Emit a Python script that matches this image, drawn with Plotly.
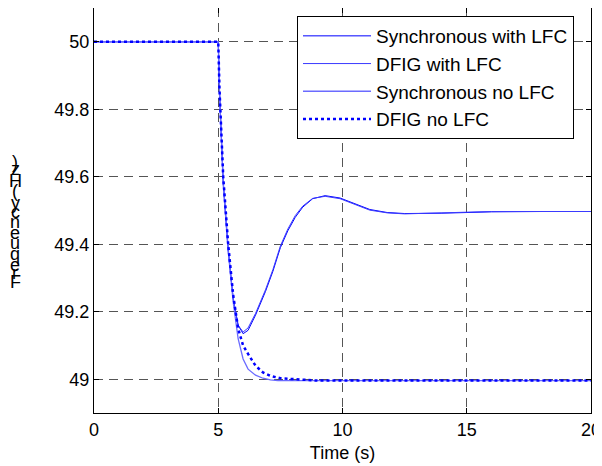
import plotly.graph_objects as go

# ---- data ----
t_lfc = [0, 5.0, 5.05, 5.1, 5.2, 5.4, 5.6, 5.8, 6.0, 6.2, 6.5, 6.9, 7.2, 7.5, 7.8, 8.1, 8.4, 8.8, 9.3, 9.9, 10.5, 11.1, 11.8, 12.5, 14, 16, 18, 20]
sync_lfc = [50, 50, 49.85, 49.75, 49.58, 49.38, 49.24, 49.16, 49.135, 49.145, 49.19, 49.26, 49.32, 49.39, 49.44, 49.48, 49.51, 49.535, 49.544, 49.537, 49.52, 49.503, 49.494, 49.491, 49.492, 49.496, 49.497, 49.497]
dfig_lfc = [50, 50, 49.86, 49.76, 49.59, 49.39, 49.24, 49.16, 49.14, 49.152, 49.195, 49.265, 49.325, 49.395, 49.445, 49.485, 49.513, 49.536, 49.542, 49.535, 49.518, 49.501, 49.493, 49.49, 49.493, 49.497, 49.497, 49.497]

t_sync_nolfc = [0, 5, 5.05, 5.1, 5.2, 5.4, 5.6, 5.8, 6.0, 6.2, 6.5, 6.8, 7.1, 7.4, 8, 9, 10, 12, 15, 20]
sync_nolfc = [50, 50, 49.85, 49.75, 49.58, 49.38, 49.23, 49.12, 49.06, 49.03, 49.012, 49.003, 48.998, 48.996, 48.996, 48.996, 48.996, 48.996, 48.996, 48.996]

t_dfig_nolfc = [0, 5, 5.05, 5.1, 5.2, 5.4, 5.6, 5.8, 6.0, 6.2, 6.5, 6.8, 7.1, 7.5, 8, 8.5, 9, 10, 12, 15, 20]
dfig_nolfc = [50, 50, 49.86, 49.76, 49.6, 49.4, 49.25, 49.15, 49.1, 49.075, 49.04, 49.02, 49.01, 49.003, 49.0, 48.998, 48.996, 48.996, 48.996, 48.996, 48.996]

x_ticks = [0, 5, 10, 15, 20]
y_ticks = [49, 49.2, 49.4, 49.6, 49.8, 50]
y_tick_labels = ["49", "49.2", "49.4", "49.6", "49.8", "50"]
names = ["Synchronous with LFC", "DFIG with LFC", "Synchronous no LFC", "DFIG no LFC"]
ylabel = "Frequency (Hz)"
xlabel = "Time (s)"

FONT = "Liberation Sans, Arial, sans-serif"

fig = go.Figure()
fig.add_trace(go.Scatter(x=t_lfc, y=sync_lfc, mode="lines", name=names[0],
                         line=dict(color="#0000ff", width=1)))
fig.add_trace(go.Scatter(x=t_lfc, y=dfig_lfc, mode="lines", name=names[1],
                         line=dict(color="#3a3aff", width=1)))
fig.add_trace(go.Scatter(x=t_sync_nolfc, y=sync_nolfc, mode="lines", name=names[2],
                         line=dict(color="#6b6bff", width=1.3)))
fig.add_trace(go.Scatter(x=t_dfig_nolfc, y=dfig_nolfc, mode="lines", name=names[3],
                         line=dict(color="#0000ff", width=2.5, dash="dot")))

# the page body has an 8px margin: figure is placed at (8, 8)
OFF = 8
W, H = 602 - OFF, 466 - OFF
L, R, T, B = 94 - OFF, 11, 8 - OFF, 53
ph = H - T - B
pw = W - L - R

def px_x(x):  # page pixel -> paper x
    return (x - OFF - L) / pw

def px_y(y):  # page pixel -> paper y
    return (H - B - (y - OFF)) / ph

fig.update_layout(
    width=W, height=H,
    margin=dict(l=L, r=R, t=T, b=B, autoexpand=False),
    paper_bgcolor="white", plot_bgcolor="white",
    font=dict(family=FONT, size=18, color="black"),
    showlegend=True,
    legend=dict(x=px_x(297), y=px_y(16), xanchor="left", yanchor="top",
                bordercolor="black", borderwidth=1, bgcolor="white",
                font=dict(family=FONT, size=19, color="black"),
                itemwidth=68, tracegroupgap=0),
)
fig.update_xaxes(range=[0, 20], tickvals=x_ticks, ticks="inside", ticklen=5, tickcolor="black",
                 showline=True, linecolor="black", linewidth=1, mirror="ticks",
                 showgrid=True, gridcolor="#555555", griddash="9px,6px", gridwidth=1,
                 zeroline=False, tickfont=dict(size=18), automargin=False,
                 title=dict(text=xlabel, font=dict(size=18), standoff=7))
fig.update_yaxes(range=[48.9, 50.1], tickvals=y_ticks, ticktext=y_tick_labels,
                 ticks="inside", ticklen=5, tickcolor="black",
                 showline=True, linecolor="black", linewidth=1, mirror="ticks",
                 showgrid=True, gridcolor="#555555", griddash="9px,6px", gridwidth=1,
                 zeroline=False, tickfont=dict(size=18), automargin=False)

# y label: glyphs stacked vertically (as in the reference)
adv = {"F": 8.5, "r": 5.0, "e": 7.8, "q": 7.8, "u": 7.8, "n": 7.8, "c": 7.0, "y": 7.0,
       " ": 3.0, "(": 4.7, "H": 10.1, "z": 7.0, ")": 4.7}
ypx = 288.0
for ch in ylabel:
    a = adv.get(ch, 7.0) * 1.35
    if ch != " ":
        fig.add_annotation(x=px_x(15), y=px_y(ypx - a / 2),
                           xref="paper", yref="paper", text=ch, showarrow=False,
                           font=dict(family=FONT, size=18, color="black"),
                           xanchor="center", yanchor="middle")
    ypx -= a

fig.write_html("out.html")
